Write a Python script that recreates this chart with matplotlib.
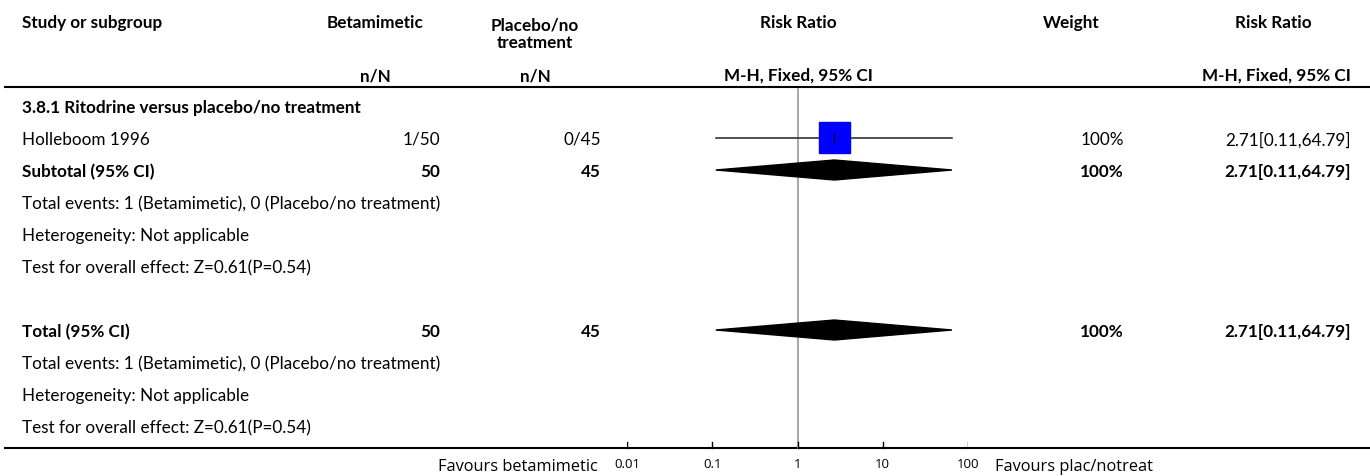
import matplotlib.pyplot as plt
from matplotlib.patches import Polygon, Rectangle
import numpy as np

plt.rcParams['font.family'] = ['Lato', 'DejaVu Sans']

# data
study = 'Holleboom 1996'
events_trt = '1/50'
events_ctl = '0/45'
rr = 2.71
ci_lo = 0.11
ci_hi = 64.79
weight = '100%'
n_trt = 50
n_ctl = 45
sub_rr = 2.71
sub_lo = 0.11
sub_hi = 64.79
tot_rr = 2.71
tot_lo = 0.11
tot_hi = 64.79
ticks = [0.01, 0.1, 1, 10, 100]
tick_labels = ['0.01', '0.1', '1', '10', '100']

W, H = 1370, 477
fig = plt.figure(figsize=(W / 100, H / 100), dpi=100)
ax = fig.add_axes([0, 0, 1, 1])
ax.set_xlim(0, W)
ax.set_ylim(H, 0)
ax.axis('off')

fs = 12.3
def t(x, y, s, ha='left', bold=False, size=fs, **kw):
    ax.text(x, y, s, ha=ha, va='center', fontsize=size,
            fontweight='bold' if bold else 'normal', color='black', **kw)

L = 22
c_trt, r_trt = 375, 440
c_ctl, r_ctl = 535, 601
c_rr = 798
c_w, r_w = 1071, 1124
c_rr2, r_rr2 = 1273, 1351

# header
t(L, 23, 'Study or subgroup', bold=True)
t(c_trt, 23, 'Betamimetic', ha='center', bold=True)
t(c_ctl, 34, 'Placebo/no\ntreatment', ha='center', bold=True, linespacing=1.15)
t(c_rr, 23, 'Risk Ratio', ha='center', bold=True)
t(c_w, 23, 'Weight', ha='center', bold=True)
t(c_rr2, 23, 'Risk Ratio', ha='center', bold=True)
t(c_trt, 76, 'n/N', ha='center', bold=True)
t(c_ctl, 76, 'n/N', ha='center', bold=True)
t(c_rr, 76, 'M-H, Fixed, 95% CI', ha='center', bold=True)
t(r_rr2, 76, 'M-H, Fixed, 95% CI', ha='right', bold=True)
ax.plot([5, W], [88, 88], color='black', lw=1.5)

# subgroup
t(L, 108, '3.8.1 Ritodrine versus placebo/no treatment', bold=True)
t(L, 140, study)
t(r_trt, 140, events_trt, ha='right')
t(r_ctl, 140, events_ctl, ha='right')
t(r_w, 140, weight, ha='right')
t(r_rr2, 140, f'{rr:.2f}[{ci_lo:.2f},{ci_hi:.2f}]', ha='right')
t(L, 172, 'Subtotal (95% CI)', bold=True)
t(r_trt, 172, str(n_trt), ha='right', bold=True)
t(r_ctl, 172, str(n_ctl), ha='right', bold=True)
t(r_w, 172, weight, ha='right', bold=True)
t(r_rr2, 172, f'{sub_rr:.2f}[{sub_lo:.2f},{sub_hi:.2f}]', ha='right', bold=True)
t(L, 204, 'Total events: 1 (Betamimetic), 0 (Placebo/no treatment)')
t(L, 236, 'Heterogeneity: Not applicable')
t(L, 268, 'Test for overall effect: Z=0.61(P=0.54)')

# total
t(L, 332, 'Total (95% CI)', bold=True)
t(r_trt, 332, str(n_trt), ha='right', bold=True)
t(r_ctl, 332, str(n_ctl), ha='right', bold=True)
t(r_w, 332, weight, ha='right', bold=True)
t(r_rr2, 332, f'{tot_rr:.2f}[{tot_lo:.2f},{tot_hi:.2f}]', ha='right', bold=True)
t(L, 364, 'Total events: 1 (Betamimetic), 0 (Placebo/no treatment)')
t(L, 396, 'Heterogeneity: Not applicable')
t(L, 428, 'Test for overall effect: Z=0.61(P=0.54)')

# bottom
ax.plot([5, W], [449, 449], color='black', lw=1.5)
ax.text(598, 467, 'Favours betamimetic', ha='right', va='center', fontsize=11.8, family='Open Sans')
ax.text(995, 467, 'Favours plac/notreat', ha='left', va='center', fontsize=11.8, family='Open Sans')

# forest panel (log scale)
x0, x1 = 627, 968
fx = fig.add_axes([x0 / W, 0, (x1 - x0) / W, 1])
fx.set_xscale('log')
fx.set_xlim(ticks[0], ticks[-1])
fx.set_ylim(H, 0)
fx.axis('off')
fx.patch.set_alpha(0)

fx.plot([1, 1], [90, 449], color='#999999', lw=1.2)
for tk, lab in zip(ticks, tick_labels):
    fx.plot([tk, tk], [443, 449], color='black', lw=1)
    fx.text(tk, 465, lab, ha='center', va='center', fontsize=9.5, family='Open Sans')

fx.plot([ci_lo, ci_hi], [139, 139], color='#333333', lw=1.2)
lx = np.log10(rr)
fx.add_patch(Rectangle((10 ** (lx - 0.18), 123), 10 ** (lx + 0.18) - 10 ** (lx - 0.18), 31,
                       color='#0000ff', zorder=3))
fx.plot([rr, rr], [134, 144], color='black', lw=0.8, zorder=4)

for y, c, lo, hi in [(171, sub_rr, sub_lo, sub_hi), (331, tot_rr, tot_lo, tot_hi)]:
    fx.add_patch(Polygon([(lo, y), (c, y - 10), (hi, y), (c, y + 10)],
                         closed=True, color='black', zorder=3))

fig.savefig('out.png', dpi=100)
